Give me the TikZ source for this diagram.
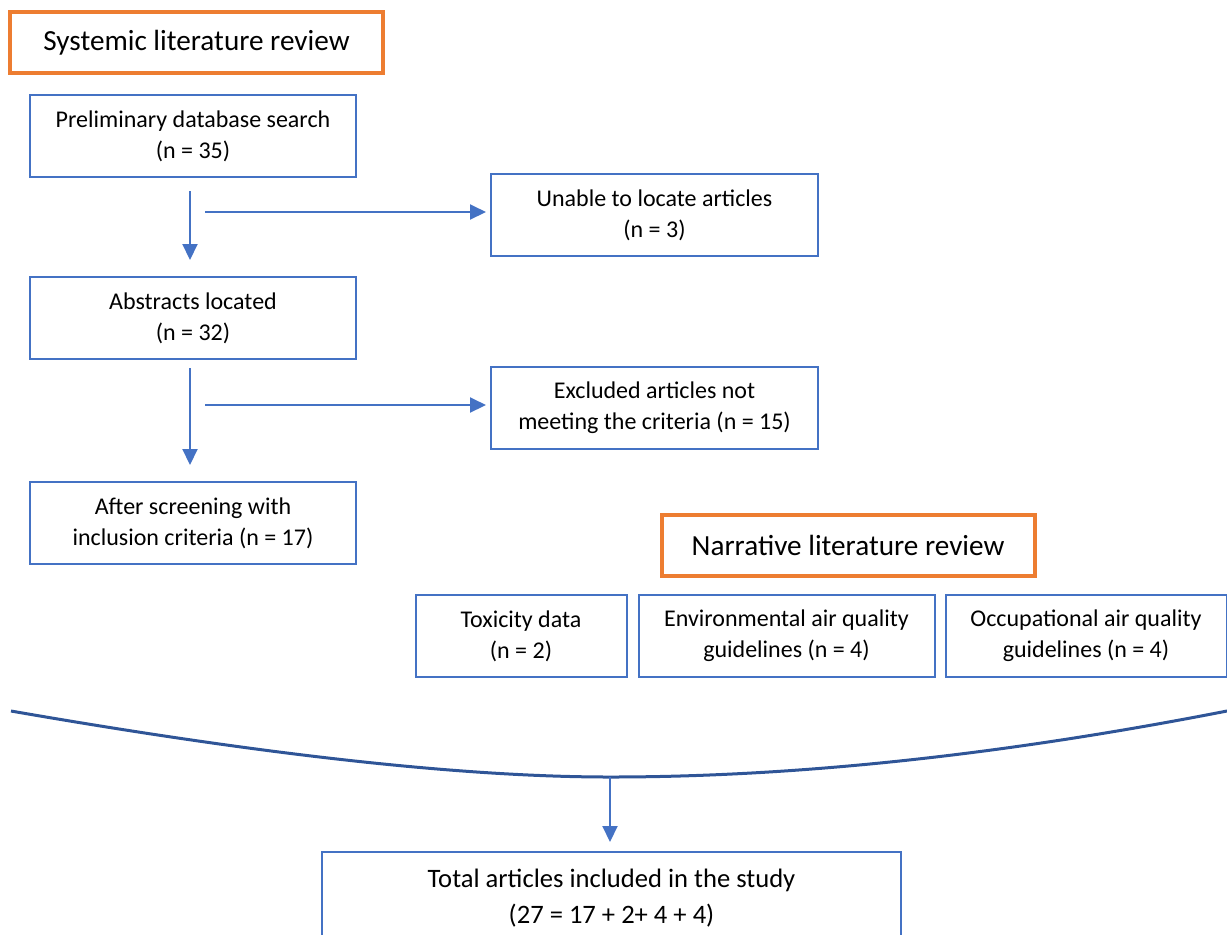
\documentclass[tikz,border=0pt]{standalone}
\usepackage{fontspec}
\setmainfont{Carlito}
\usepackage{xcolor}
\usepackage{tikz}
\usetikzlibrary{positioning,arrows.meta}

\definecolor{boxblue}{HTML}{4472C4}
\definecolor{headorange}{HTML}{ED7D31}
\definecolor{curveblue}{HTML}{2F5597}

\tikzset{
    heading/.style={draw=headorange, line width=2pt, minimum width=186.5pt, minimum height=30.5pt, inner sep=0pt, font=\fontsize{14.6}{18}\selectfont},
    stage/.style={draw=boxblue, line width=1pt, minimum width=163pt, minimum height=41pt, inner sep=0pt, align=center, font=\fontsize{12}{15.5}\selectfont},
    flow/.style={draw=boxblue, line width=1pt, -{Triangle[width=7.5pt,length=8pt]}},
    mergeline/.style={draw=curveblue, line width=1.5pt},
}

\begin{document}
\begin{tikzpicture}[x=0.5pt, y=-0.5pt]
        \useasboundingbox (0,0) rectangle (1227,934);
        \clip (0,0) rectangle (1227,934); % bottom box runs off the page
        \node [heading] (sysrev) at (196.5,42.5) {Systemic literature review}; % first heading
        \node [stage] (prelim) at (193,136) {Preliminary database search\\(n = 35)}; % top of left column
        \node [stage, below=49pt of prelim] (abstracts) {Abstracts located\\(n = 32)};
        \node [stage, below=60.5pt of abstracts] (screened) {After screening with\\inclusion criteria (n = 17)};
        \node [stage, minimum width=163.5pt] (unable) at (654.5,215) {Unable to locate articles\\(n = 3)}; % right column
        \node [stage, minimum width=163.5pt, below=54.5pt of unable] (excluded) {Excluded articles not\\meeting the criteria (n = 15)};
        \node [heading] (narrev) at (848,545.5) {Narrative literature review}; % second heading
        \node [stage, minimum width=105.5pt] (toxicity) at (521,636) {Toxicity data\\(n = 2)};
        \node [stage, minimum width=148pt, right=5pt of toxicity] (envguide) {Environmental air quality\\guidelines (n = 4)};
        \node [stage, minimum width=140.5pt, right=4.5pt of envguide] (occguide) {Occupational air quality\\guidelines (n = 4)};
        \node [stage, minimum width=289.5pt, minimum height=46pt, font=\fontsize{13.3}{18}\selectfont] (total) at (611.5,898) {Total articles included in the study\\(27 = 17 + 2+ 4 + 4)}; % cut at the bottom
        \coordinate (split1) at (205,212); % start of first side arrow
        \coordinate (split2) at (205,405); % start of second side arrow
        \coordinate (lend) at (11,711); % curve left end
        \coordinate (merge) at (610,777); % curve lowest point
        \coordinate (rend) at (1227,711); % curve right end
        \draw [flow, shorten <=6.5pt, shorten >=8pt] ([xshift=-1.5pt]prelim.south) -- ([xshift=-1.5pt]abstracts.north);
        \draw [flow, shorten <=4pt, shorten >=8pt] ([xshift=-1.5pt]abstracts.south) -- ([xshift=-1.5pt]screened.north);
        \draw [flow, shorten >=2pt] (split1) -- (split1 -| unable.west);
        \draw [flow, shorten >=2pt] (split2) -- (split2 -| excluded.west);
        \draw [mergeline] (lend) .. controls (264,755) and (463,777) .. (merge) .. controls (797,777) and (1002,755) .. (rend);
        \draw [flow, shorten >=4.5pt] (merge) -- (merge |- total.north);
    \end{tikzpicture}
\end{document}
